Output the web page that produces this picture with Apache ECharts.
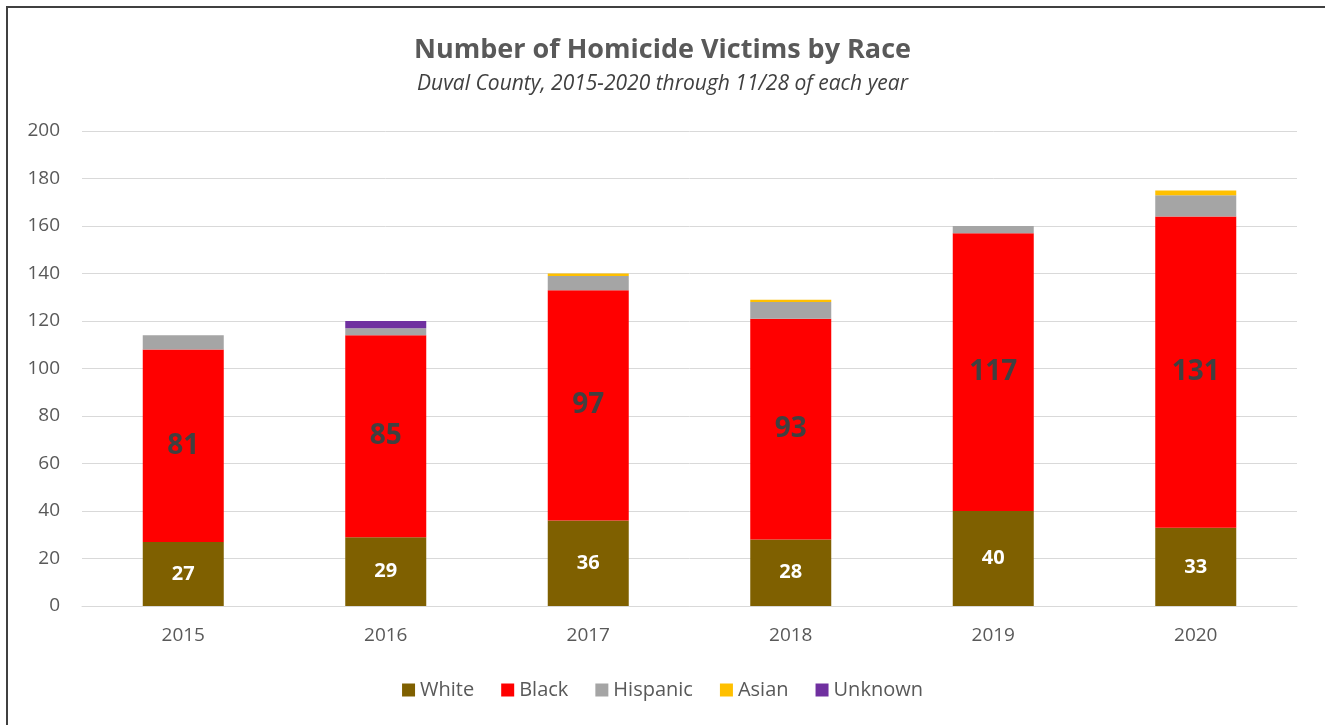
<!DOCTYPE html>
<html>
<head>
<meta charset="utf-8">
<script src="https://cdn.jsdelivr.net/npm/echarts@6/dist/echarts.min.js"></script>
<style>
  html, body { margin: 0; padding: 0; background: #fff; }
  #frame { position: absolute; left: 6px; top: 6px; width: 1330px; height: 730px; border: 2px solid #404040; box-sizing: border-box; }
  #chart { position: absolute; left: 0; top: 0; width: 1325px; height: 725px; }
</style>
</head>
<body>
<div id="frame"></div>
<div id="chart"></div>
<script>
// Homicide victims by race, Duval County, through 11/28 of each year
const years = ['2015', '2016', '2017', '2018', '2019', '2020'];
const white = [27, 29, 36, 28, 40, 33];
const black = [81, 85, 97, 93, 117, 131];
const hispanic = [6, 3, 6, 7, 3, 9];
const asian = [0, 0, 1, 1, 0, 2];
const unknown = [0, 3, 0, 0, 0, 0];
const yTicks = { min: 0, max: 200, interval: 20 };

const font = '"Open Sans", "Noto Sans", sans-serif';
const chart = echarts.init(document.getElementById('chart'));

function seg(name, data, color, label) {
  return {
    name, type: 'bar', stack: 'total', data,
    barWidth: '40%',
    itemStyle: { color },
    label: label || { show: false },
    emphasis: { disabled: true }
  };
}

chart.setOption({
  animation: false,
  title: {
    text: 'Number of Homicide Victims by Race',
    subtext: 'Duval County, 2015-2020 through 11/28 of each year',
    left: 'center', top: 32, itemGap: 10,
    textStyle: { fontFamily: font, fontSize: 27, fontWeight: 'bold', color: '#595959' },
    subtextStyle: { fontFamily: font, fontSize: 21, fontStyle: 'italic', color: '#404040' }
  },
  legend: {
    bottom: 20, left: 'center', itemWidth: 13, itemHeight: 13, itemGap: 27,
    icon: 'rect',
    textStyle: { fontFamily: font, fontSize: 20, color: '#595959' },
    data: ['White', 'Black', 'Hispanic', 'Asian', 'Unknown']
  },
  grid: { left: 82, right: 28, top: 131, bottom: 119, containLabel: false },
  xAxis: {
    type: 'category', data: years,
    axisLine: { lineStyle: { color: '#d9d9d9' } },
    axisTick: { show: false },
    axisLabel: { fontFamily: font, fontSize: 19, color: '#595959', margin: 20 }
  },
  yAxis: {
    type: 'value', min: yTicks.min, max: yTicks.max, interval: yTicks.interval,
    axisLine: { show: false }, axisTick: { show: false },
    splitLine: { lineStyle: { color: '#d9d9d9', width: 1 } },
    axisLabel: { fontFamily: font, fontSize: 19, color: '#595959', margin: 22 }
  },
  series: [
    seg('White', white, '#7f6000', { show: true, position: 'inside', color: '#ffffff', fontFamily: font, fontWeight: 'bold', fontSize: 20 }),
    seg('Black', black, '#ff0000', { show: true, position: 'inside', color: '#404040', fontFamily: font, fontWeight: 'bold', fontSize: 28 }),
    seg('Hispanic', hispanic, '#a5a5a5'),
    seg('Asian', asian, '#ffc000'),
    seg('Unknown', unknown, '#7030a0')
  ]
});
</script>
</body>
</html>
